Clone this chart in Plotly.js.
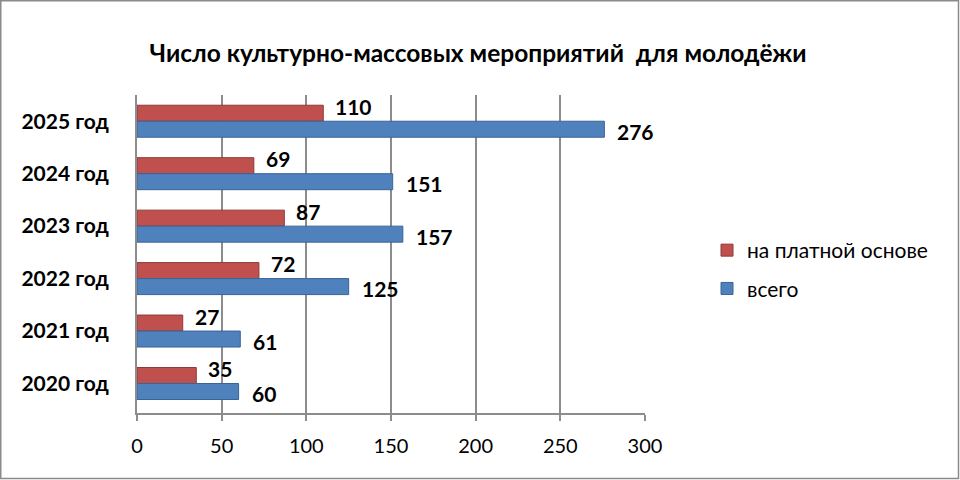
<!DOCTYPE html>
<html>
<head>
<meta charset="utf-8">
<script src="https://cdn.plot.ly/plotly-3.0.1.min.js"></script>
<style>
html,body{margin:0;padding:0;background:#fff;}
#chart{width:960px;height:480px;}
</style>
</head>
<body>
<div id="chart"></div>
<script>
const categories = ["2020 год", "2021 год", "2022 год", "2023 год", "2024 год", "2025 год"];
const paidValues = [35, 27, 72, 87, 69, 110];
const totalValues = [60, 61, 125, 157, 151, 276];
const seriesNames = ["на платной основе", "всего"];
const xTicks = [0, 50, 100, 150, 200, 250, 300];
const chartTitle = "Число культурно-массовых мероприятий  для молодёжи";

const W = 960, H = 480;
const M = {l: 137, r: 315, t: 95, b: 67};
const pw = W - M.l - M.r, ph = H - M.t - M.b;
const FONT = "Lato, 'Open Sans', sans-serif";

const tracePaid = {
  type: "bar", orientation: "h",
  name: seriesNames[0], y: categories, x: paidValues,
  marker: {color: "#C0504D", line: {color: "#8E3A38", width: 1}},
  legendgroup: "a", hoverinfo: "x+y"
};
const traceTotal = {
  type: "bar", orientation: "h",
  name: seriesNames[1], y: categories, x: totalValues,
  marker: {color: "#4F81BD", line: {color: "#3A6496", width: 1}},
  legendgroup: "b", hoverinfo: "x+y"
};

const annotations = [];
categories.forEach((c, i) => {
  annotations.push({x: paidValues[i], y: c, xref: "x", yref: "y", text: String(paidValues[i]),
    showarrow: false, xanchor: "left", yanchor: "middle", xshift: 10, yshift: 15,
    font: {family: FONT, size: 21, color: "#000", weight: "bold"}});
  annotations.push({x: totalValues[i], y: c, xref: "x", yref: "y", text: String(totalValues[i]),
    showarrow: false, xanchor: "left", yanchor: "middle", xshift: 11, yshift: -10,
    font: {family: FONT, size: 21, color: "#000", weight: "bold"}});
});

const px = v => (v - M.l) / pw;
const py = v => (H - M.b - v) / ph;

const layout = {
  width: W, height: H,
  margin: M,
  paper_bgcolor: "#fff", plot_bgcolor: "#fff",
  barmode: "group", bargap: 0.39, bargroupgap: 0,
  showlegend: true,
  title: {text: "<b>" + chartTitle + "</b>", x: 0.498, xanchor: "center", y: 1 - 53 / H, yanchor: "middle",
    font: {family: FONT, size: 24.5, color: "#000"}},
  xaxis: {
    range: [0, 300], tickvals: xTicks, ticktext: xTicks.map(String),
    showgrid: true, gridcolor: "#8C8C8C", gridwidth: 2,
    showline: true, linecolor: "#8C8C8C", linewidth: 2,
    ticks: "outside", ticklen: 6, tickcolor: "#8C8C8C", tickwidth: 2,
    ticklabelstandoff: 8,
    zeroline: false, fixedrange: true,
    tickfont: {family: FONT, size: 20, color: "#000"}
  },
  yaxis: {
    type: "category", categoryorder: "array", categoryarray: categories.slice().reverse(),
    autorange: "reversed",
    showgrid: false, showline: true, linecolor: "#8C8C8C", linewidth: 2,
    ticks: "", ticklabelstandoff: 22, fixedrange: true,
    tickfont: {family: FONT, size: 21, color: "#000", weight: "bold"}
  },
  legend: {
    x: px(707), y: py(230), xanchor: "left", yanchor: "top",
    traceorder: "grouped", tracegroupgap: 8,
    font: {family: FONT, size: 21, color: "#000"},
    bgcolor: "rgba(0,0,0,0)", itemclick: false
  },
  annotations: annotations,
  shapes: [{type: "rect", xref: "paper", yref: "paper",
    x0: px(0.75), x1: px(958.5), y0: py(478.5), y1: py(0.75),
    line: {color: "#8A8A8A", width: 1.5}, fillcolor: "rgba(0,0,0,0)", layer: "below"}]
};

Plotly.newPlot("chart", [tracePaid, traceTotal], layout, {displayModeBar: false, staticPlot: true});
</script>
</body>
</html>
